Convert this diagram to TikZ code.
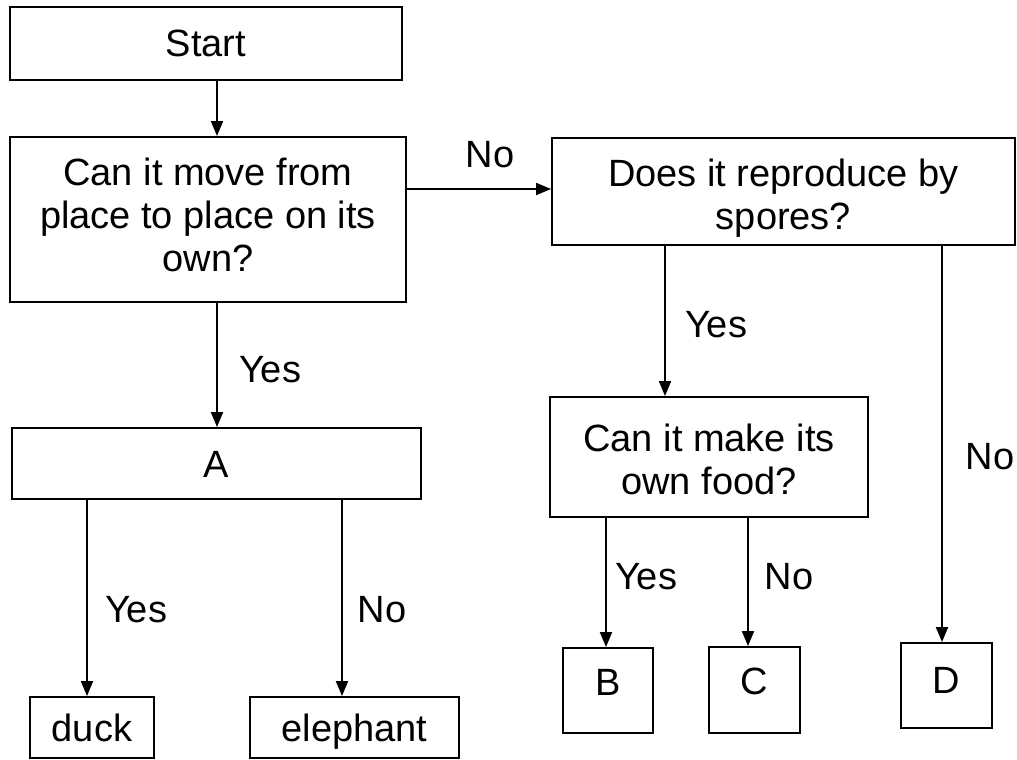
\documentclass[tikz,border=0pt]{standalone}
\usepackage{fontspec}
\setmainfont{Liberation Sans}
\usetikzlibrary{arrows.meta}
\newcommand\shiftlines[2]{\raisebox{#1}[\height][\depth]{\begin{tabular}{@{}c@{}}#2\end{tabular}}}
\begin{document}
\begin{tikzpicture}[x=1pt,y=1pt,
  box/.style={draw, line width=1.9pt, inner sep=0pt, align=center,
    font=\fontsize{38}{43}\selectfont},
  one/.style={text height=27pt, text depth=0pt},
  arr/.style={draw, line width=1.9pt, -{Triangle[length=15pt,width=12pt]}},
  lbl/.style={font=\fontsize{38}{43}\selectfont, inner sep=0pt}]
\useasboundingbox (0,0) rectangle (1017,-760);
\node[box, one, minimum width=392pt, minimum height=73pt] (start) at (206,-43.5) {Start};
\node[box, minimum width=396pt, minimum height=165pt] (q1) at (208,-219.5)
  {\shiftlines{0pt}{Can it move from\\place to place on its\\own?}};
\node[box, minimum width=463pt, minimum height=107pt] (q2) at (783.5,-191.5)
  {\shiftlines{-8pt}{Does it reproduce by\\spores?}};
\node[box, minimum width=318pt, minimum height=120pt] (q3) at (709,-457)
  {\shiftlines{-7pt}{Can it make its\\own food?}};
\node[box, one, minimum width=409pt, minimum height=71pt] (a) at (216.5,-463.5) {A};
\node[box, one, minimum width=124pt, minimum height=61pt] (duck) at (92,-727.5) {duck};
\node[box, one, minimum width=209pt, minimum height=61pt] (eleph) at (354.5,-727.5) {elephant};
\node[box, one, minimum width=90pt, minimum height=85pt] (b) at (608,-690.5) {\raisebox{9pt}{B}};
\node[box, one, minimum width=91pt, minimum height=86pt] (c) at (754.5,-690) {\raisebox{9pt}{C}};
\node[box, one, minimum width=91pt, minimum height=85pt] (d) at (946.5,-685.5) {\raisebox{6pt}{D}};
% guide coordinates
\coordinate (xm) at (217,0);
\coordinate (yn) at (0,-189);
\coordinate (xq2y) at (665,0);
\coordinate (xq2n) at (942,0);
\coordinate (xb) at (606,0);
\coordinate (xc) at (748,0);
\coordinate (xduck) at (87,0);
\coordinate (xel) at (342,0);
% connectors
\draw[arr] (start.south -| xm) -- (q1.north -| xm);
\draw[arr] (q1.east |- yn) -- (q2.west |- yn);
\draw[arr] (q1.south -| xm) -- (a.north -| xm);
\draw[arr] (q2.south -| xq2y) -- (q3.north -| xq2y);
\draw[arr] (q2.south -| xq2n) -- (d.north -| xq2n);
\draw[arr] (q3.south -| xb) -- (b.north -| xb);
\draw[arr] (q3.south -| xc) -- (c.north -| xc);
\draw[arr] (a.south -| xduck) -- (duck.north -| xduck);
\draw[arr] (a.south -| xel) -- (eleph.north -| xel);
% labels
\node[lbl] (l1) at (490,-155) {No};
\node[lbl] (l2) at (270,-370) {Yes};
\node[lbl] (l3) at (716,-325) {Yes};
\node[lbl] (l4) at (990,-457) {No};
\node[lbl] (l5) at (646,-577) {Yes};
\node[lbl] (l6) at (789,-577) {No};
\node[lbl] (l7) at (136,-610) {Yes};
\node[lbl] (l8) at (382,-610) {No};
\end{tikzpicture}
\end{document}
